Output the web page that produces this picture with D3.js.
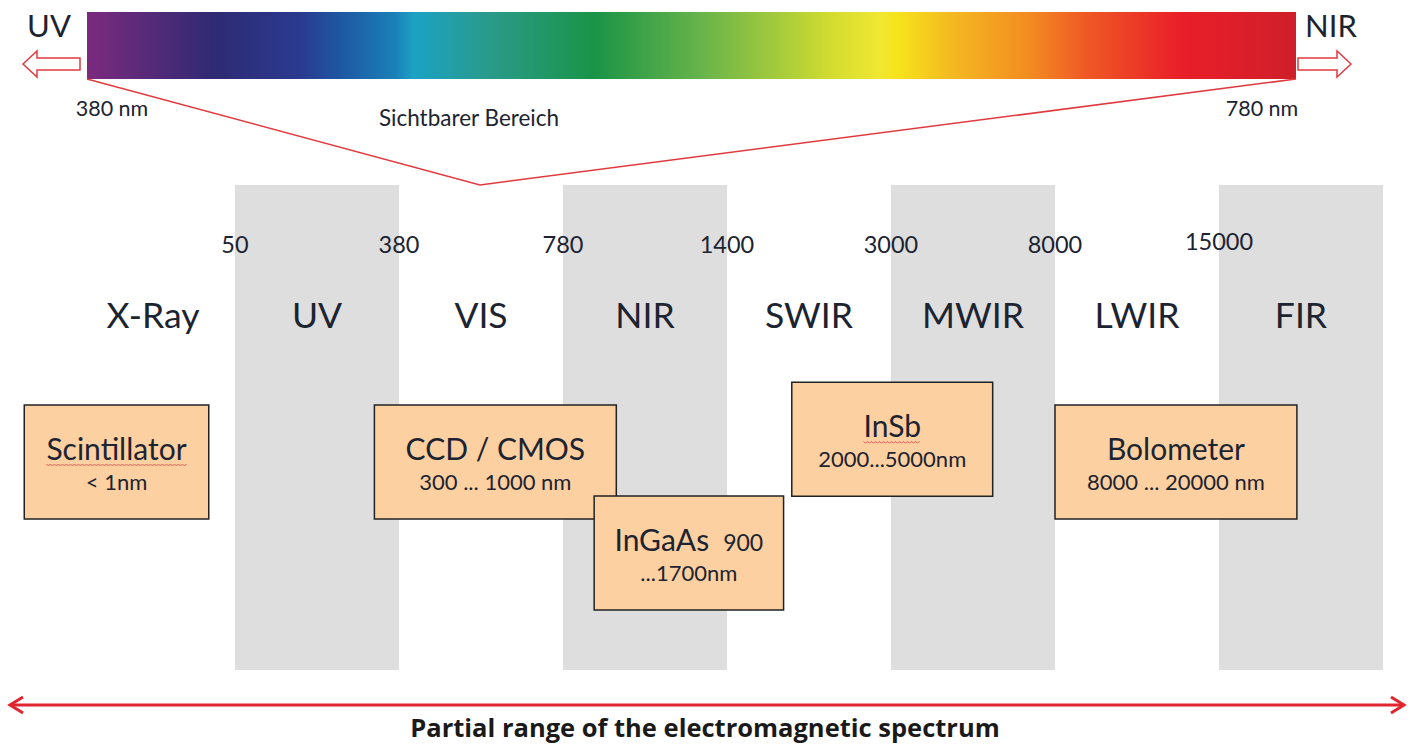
<!DOCTYPE html>
<html><head><meta charset="utf-8">
<script src="https://cdn.jsdelivr.net/npm/d3@7"></script>
<style>body{margin:0;background:#fff}svg{display:block}</style>
</head><body>
<svg id="c" width="1415" height="746"></svg>
<script>
// ---- data ----
const bands = ["X-Ray","UV","VIS","NIR","SWIR","MWIR","LWIR","FIR"];
const shadedBands = ["UV","NIR","MWIR","FIR"];
const boundaryLabels = ["50","380","780","1400","3000","8000","15000"];
const spectrumOffsets = [0,0.105,0.176,0.21,0.255,0.27,0.335,0.42,0.51,0.575,0.615,0.655,0.67,0.715,0.78,0.825,0.905,1];
const spectrumColors = ["#7c2a7e","#2f2a73","#2a3a90","#1e58a2","#1a80b8","#1ba2c4","#2a9a88","#1a9447","#6ab44a","#a8cc3b","#d2dc2f","#f0e732","#f6e41b","#f4b921","#f38b21","#ef5a25","#e91e29","#cf1f2a"];
const spectrumEnds = ["380 nm","780 nm"];
const spectrumLabel = "Sichtbarer Bereich";
const detectorNames = ["Scintillator","CCD / CMOS","InGaAs","InSb","Bolometer"];
const detectorRanges = ["< 1nm","300 ... 1000 nm","...1700nm","2000...5000nm","8000 ... 20000 nm"];
const detectorStart = [-0.285,1.85,3.19,4.395,6.0];   // in band units
const detectorEnd   = [0.84,3.325,4.345,5.62,7.475];
const detectorRow   = [0,0,1,-0.25,0];
const title = "Partial range of the electromagnetic spectrum";

// ---- layout ----
const svg = d3.select("#c");
const x = d3.scaleLinear().domain([1, bands.length]).range([235, 1383]);
const bw = x(2) - x(1);
const txt = "#1c2331";
const red = "#e0262e";
const font = "Lato, 'Open Sans', sans-serif";

// gray bands
svg.selectAll("rect.band").data(bands.map((b,i)=>({b,i})).filter(d=>shadedBands.includes(d.b)))
  .join("rect").attr("x", d=>x(d.i)).attr("y",185).attr("width",bw).attr("height",485).attr("fill","#dedede");

// band labels
svg.selectAll("text.bl").data(bands).join("text")
  .attr("x",(d,i)=>x(i)+bw/2).attr("y",328).attr("text-anchor","middle")
  .attr("font-family",font).attr("font-size",35.5).attr("fill",txt).text(d=>d);

// boundary labels
svg.selectAll("text.bd").data(boundaryLabels).join("text")
  .attr("x",(d,i)=>x(i+1)).attr("y",(d,i)=>i===6?250:253).attr("text-anchor","middle")
  .attr("font-family",font).attr("font-size",23.5).attr("fill",txt).text(d=>d);

// spectrum bar
const sx0 = 87, sx1 = 1296, sy0 = 12, sy1 = 79;
const grad = svg.append("defs").append("linearGradient").attr("id","spec");
grad.selectAll("stop").data(spectrumOffsets).join("stop")
  .attr("offset",d=>d).attr("stop-color",(d,i)=>spectrumColors[i]);
svg.append("rect").attr("x",sx0).attr("y",sy0).attr("width",sx1-sx0).attr("height",sy1-sy0).attr("fill","url(#spec)");

// funnel lines
svg.append("path").attr("d",`M${sx0},${sy1}L480,185L${sx1},${sy1}`).attr("fill","none").attr("stroke","#e03a3f").attr("stroke-width",1.5);

// hollow arrows
function hollowArrow(tipX, baseX, cy){
  const dir = Math.sign(baseX - tipX);
  const headLen = 14, bh = 6, hh = 13;
  const hx = tipX + dir*headLen;
  return `M${tipX},${cy}L${hx},${cy-hh}L${hx},${cy-bh}L${baseX},${cy-bh}L${baseX},${cy+bh}L${hx},${cy+bh}L${hx},${cy+hh}Z`;
}
svg.append("path").attr("d",hollowArrow(23,80,64)).attr("fill","#fff").attr("stroke","#e03a3f").attr("stroke-width",1.5);
svg.append("path").attr("d",hollowArrow(1351,1298,64)).attr("fill","#fff").attr("stroke","#e03a3f").attr("stroke-width",1.5);
svg.append("text").attr("x",49).attr("y",37).attr("text-anchor","middle").attr("font-family",font).attr("font-size",31).attr("fill",txt).text("UV");
svg.append("text").attr("x",1331).attr("y",37).attr("text-anchor","middle").attr("font-family",font).attr("font-size",31).attr("fill",txt).text("NIR");

svg.append("text").attr("x",112).attr("y",116).attr("text-anchor","middle").attr("font-family",font).attr("font-size",21.5).attr("fill",txt).text(spectrumEnds[0]);
svg.append("text").attr("x",1262).attr("y",116).attr("text-anchor","middle").attr("font-family",font).attr("font-size",21.5).attr("fill",txt).text(spectrumEnds[1]);
svg.append("text").attr("x",469).attr("y",126).attr("text-anchor","middle").attr("font-family",font).attr("font-size",22.5).attr("fill",txt).text(spectrumLabel);

// detector boxes
const rowY = d3.scaleLinear().domain([0,1]).range([405,496]);
const boxH = 114;
const det = detectorNames.map((n,i)=>({n, r:detectorRanges[i], s:detectorStart[i], e:detectorEnd[i], row:detectorRow[i]}));
const g = svg.selectAll("g.det").data(det).join("g").attr("class","det")
  .attr("transform",d=>`translate(${x(d.s)},${rowY(d.row)})`);
g.append("rect").attr("width",d=>x(d.e)-x(d.s)).attr("height",boxH)
  .attr("fill","#fcd0a0").attr("stroke","#222").attr("stroke-width",1.5);
g.each(function(d){
  const w = x(d.e)-x(d.s);
  const sel = d3.select(this);
  const t = sel.append("text").attr("x",w/2).attr("y",55).attr("text-anchor","middle")
    .attr("font-family",font).attr("font-size",30).attr("fill",txt);
  if(d.n==="InGaAs"){
    t.append("tspan").text("InGaAs");
    t.append("tspan").attr("font-size",23).attr("dx",14).text("900");
  } else t.text(d.n);
  sel.append("text").attr("x",w/2).attr("y",85).attr("text-anchor","middle")
    .attr("font-family",font).attr("font-size",22).attr("fill",txt).text(d.r);
  if(d.n==="Scintillator"||d.n==="InSb"){
    const bb = t.node().getBBox();
    let p = `M${bb.x},${59}`;
    for(let xx=bb.x; xx<bb.x+bb.width-2; xx+=4){ p += `L${xx+2},${61}L${xx+4},${59}`; }
    sel.append("path").attr("d",p).attr("fill","none").attr("stroke","#e8585a").attr("stroke-width",1);
  }
});

// bottom double arrow
const by = 705;
svg.append("line").attr("x1",10).attr("x2",1404).attr("y1",by).attr("y2",by).attr("stroke",red).attr("stroke-width",3);
svg.append("path").attr("d",`M23,${by-8}L10,${by}L23,${by+8}`).attr("fill","none").attr("stroke",red).attr("stroke-width",3);
svg.append("path").attr("d",`M1391,${by-8}L1404,${by}L1391,${by+8}`).attr("fill","none").attr("stroke",red).attr("stroke-width",3);
svg.append("text").attr("x",705).attr("y",737).attr("text-anchor","middle")
  .attr("font-family","'Open Sans', sans-serif").attr("font-weight","bold").attr("font-size",25.5).attr("fill","#1a1a1a").text(title);
</script>
</body></html>
